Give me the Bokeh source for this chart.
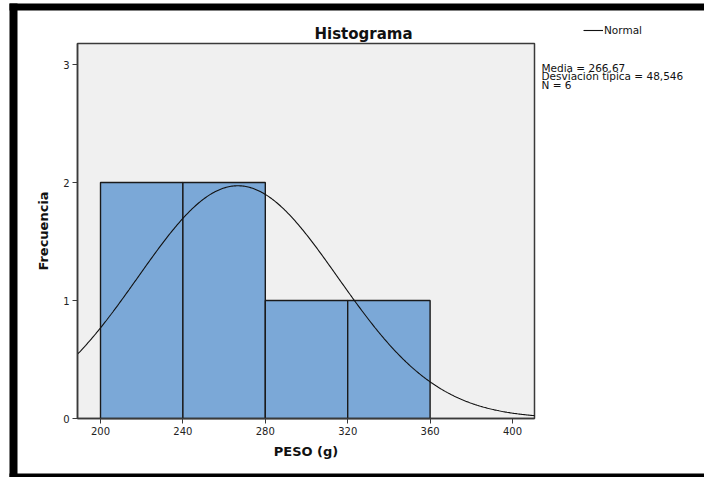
import numpy as np
from bokeh.plotting import figure
from bokeh.models import (Range1d, FixedTicker, Label, Legend, LegendItem,
                          ColumnDataSource, BoxAnnotation)
from bokeh.embed import file_html
from bokeh.resources import INLINE

# ---- data ----
bin_left = [200, 240, 280, 320]
bin_right = [240, 280, 320, 360]
frecuencia = [2, 2, 1, 1]
media = 266.67
desv_tipica = 48.546
n_obs = 6
x_ticks = [200, 240, 280, 320, 360, 400]
y_ticks = [0, 1, 2, 3]
stats_lines = ["Media = 266,67", "Desviación típica = 48,546", "N = 6"]
titulo = "Histograma"
x_label = "PESO (g)"
y_label = "Frecuencia"
legend_label = "Normal"

# visible plot-area extent (data units)
X0, X1 = 188.83, 410.68
Y0, Y1 = 0.0, 3.178

# page geometry (pixels) of that plot area
W, H = 704, 477
PX0, PX1, PY_TOP, PY_BOT = 77, 534, 43, 418
kx = (PX1 - PX0) / (X1 - X0)
ky = (PY_BOT - PY_TOP) / (Y1 - Y0)

FONT = "DejaVu Sans"

p = figure(width=W, height=H, output_backend="svg", toolbar_location=None,
           x_range=Range1d(X0 - PX0 / kx, X1 + (W - PX1) / kx),
           y_range=Range1d(Y0 - (H - PY_BOT) / ky, Y1 + PY_TOP / ky),
           min_border_left=0, min_border_right=0,
           min_border_top=0, min_border_bottom=0)
p.background_fill_color = "white"
p.border_fill_color = "white"
p.outline_line_color = None
p.grid.visible = False

# plot-area panel
p.quad(left=[X0], right=[X1], bottom=[Y0], top=[Y1],
       fill_color="#F0F0F0", line_color="#3a3a3a", line_width=1.5)

bars = ColumnDataSource(dict(left=bin_left, right=bin_right, top=frecuencia,
                             bottom=[0] * len(frecuencia)))
p.quad(left="left", right="right", top="top", bottom="bottom", source=bars,
       fill_color="#7BA8D7", line_color="#1a1a1a", line_width=1.4)

# fitted normal curve (scaled to counts: N * bin width * pdf)
bin_width = bin_right[0] - bin_left[0]
xs = np.linspace(X0, X1, 400)
ys = n_obs * bin_width * np.exp(-0.5 * ((xs - media) / desv_tipica) ** 2) / (desv_tipica * np.sqrt(2 * np.pi))
curve = p.line(xs, ys, line_color="#111111", line_width=1.1)

for ax in (p.xaxis, p.yaxis):
    ax.minor_tick_line_color = None
    ax.major_tick_out = 5
    ax.major_tick_in = 0
    ax.major_tick_line_color = "#3a3a3a"
    ax.axis_line_color = "#3a3a3a"
    ax.axis_line_width = 1.5
    ax.major_label_text_font = FONT
    ax.major_label_text_font_size = "10px"
    ax.major_label_text_color = "#222222"
    ax.axis_label_text_font = FONT
    ax.axis_label_text_font_size = "13px"
    ax.axis_label_text_font_style = "bold"
    ax.axis_label_text_color = "#111111"

p.xaxis.ticker = FixedTicker(ticks=x_ticks)
p.yaxis.ticker = FixedTicker(ticks=y_ticks)
p.xaxis.fixed_location = Y0
p.yaxis.fixed_location = X0
p.xaxis.bounds = (X0, X1)
p.yaxis.bounds = (Y0, Y1)
p.xaxis.axis_label = x_label
p.yaxis.axis_label = y_label
p.xaxis.major_label_standoff = 3
p.xaxis.axis_label_standoff = 6
p.yaxis.major_label_standoff = 3
p.yaxis.axis_label_standoff = 9


def dx(px):
    return X0 + (px - PX0) / kx


def dy(py):
    return Y0 + (PY_BOT - py) / ky


# title
p.add_layout(Label(x=dx(363), y=dy(33), text=titulo, text_align="center",
                   text_baseline="middle", text_font=FONT,
                   text_font_size="15px", text_font_style="bold",
                   text_color="#111111"))

# statistics
for txt, py in zip(stats_lines, [67, 75.5, 84]):
    p.add_layout(Label(x=dx(541), y=dy(py), text=txt, text_align="left",
                       text_baseline="middle", text_font=FONT,
                       text_font_size="10.5px", text_color="#111111"))

# legend
legend = Legend(items=[LegendItem(label=legend_label, renderers=[curve])],
                location=(583, H - 36), orientation="vertical",
                glyph_width=20, glyph_height=10, label_height=10,
                label_standoff=1, padding=0, spacing=0, margin=0,
                border_line_color=None, background_fill_alpha=0,
                label_text_font=FONT, label_text_font_size="10.5px",
                label_text_color="#111111")
p.add_layout(legend)

# outer black frame
for l, r, t, b in [(9, 17, 3, H), (9, W, 3, 10), (9, W, 473, H)]:
    p.add_layout(BoxAnnotation(left=l, right=r, top=t, bottom=b,
                               left_units="canvas", right_units="canvas",
                               top_units="canvas", bottom_units="canvas",
                               fill_color="black", fill_alpha=1.0,
                               line_color=None, level="overlay"))

open("out.html", "w").write(file_html(p, INLINE))
